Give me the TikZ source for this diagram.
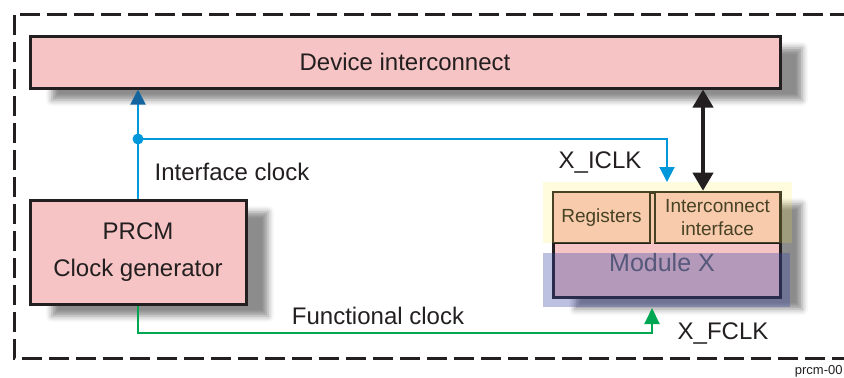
\documentclass[tikz,border=0pt]{standalone}
\usepackage{fontspec}
\setmainfont{Liberation Sans}
\usepackage{tikz}
\usetikzlibrary{arrows.meta,shadows.blur}
\usepackage{xcolor}
\definecolor{boxpink}{HTML}{F6C4C4}
\definecolor{boxline}{HTML}{231F20}
\definecolor{iclkblue}{HTML}{0098DA}
\definecolor{iclktip}{HTML}{14659E}
\definecolor{fclkgreen}{HTML}{00A651}
\definecolor{ovlyellow}{HTML}{FFEF3A}
\definecolor{ovlblue}{HTML}{3A46A8}

\begin{document}
\begin{tikzpicture}[x=0.5pt,y=-0.5pt,
  blk/.style={draw=boxline,line width=1.5pt,fill=boxpink,text=boxline,inner sep=0pt,align=center,
    font=\fontsize{12}{18.5}\selectfont},
  shadowed/.style={blur shadow={shadow xshift=11pt,shadow yshift=-6pt,shadow blur radius=3pt,shadow opacity=45}},
  subblk/.style={blk,line width=1.3pt,font=\fontsize{9.5}{11.5}\selectfont},
  lbl/.style={text=boxline,inner sep=0pt,font=\fontsize{12}{14}\selectfont},
  iclkline/.style={draw=iclkblue,line width=1pt},
  fclkline/.style={draw=fclkgreen,line width=1pt,-{Triangle[length=8pt,width=7.5pt]}},
  busline/.style={draw=boxline,line width=2pt,{Triangle[length=9pt,width=10pt]}-{Triangle[length=9pt,width=10pt]}}]
\useasboundingbox (0,0) rectangle (844,377);
\clip (0,0) rectangle (844,377);
\draw[boxline,line width=1.5pt,dash pattern=on 10pt off 3.5pt] (850,14) -- (14,14) -- (14,358) -- (850,358);

\node[blk,shadowed,minimum width=375pt,minimum height=26pt] (dev) at (405,62) {Device interconnect};
\node[blk,shadowed,minimum width=108pt,minimum height=52pt] (prcm) at (138,252) {PRCM\\Clock generator};
\node[blk,shadowed,minimum width=113.5pt,minimum height=52.5pt] (modx) at (666.5,244.5) {};
\node[subblk,minimum width=48.5pt,minimum height=25.5pt] (regs) at (601.5,217.5) {Registers};
\node[subblk,minimum width=62.5pt,minimum height=25.5pt] (icif) at (717.5,217.5) {Interconnect\\interface};
\node[lbl,text=boxline!70,font=\fontsize{12.5}{14}\selectfont] (modlab) at (662,263) {Module X};

\fill[ovlyellow,opacity=0.17] (543,182) rectangle (792,243);
\fill[ovlblue,opacity=0.34] (543,253) rectangle (790,307);

\coordinate (icsplit) at (138,139);
\coordinate (iclk) at (667,182);
\coordinate (busx) at (703,0);
\coordinate (fbend) at (652,333);
\coordinate (fclk) at (652,308);

\draw[iclkline,-{Triangle[length=7.5pt,width=7.5pt,color=iclktip]}] (prcm.north) -- (prcm.north |- dev.south);
\fill[iclkblue] (icsplit) circle (2.75pt);
\draw[iclkline,-{Triangle[length=7.5pt,width=7.5pt]}] (icsplit) -| (iclk);
\draw[busline] (busx |- dev.south) -- (busx |- icif.north);
\draw[fclkline] (prcm.south) |- (fbend) -- (fclk);

\node[lbl] (iclab) at (232,172) {Interface clock};
\node[lbl] (xiclab) at (600,162) {X\_ICLK};
\node[lbl] (fclab) at (378,316) {Functional clock};
\node[lbl] (xfclab) at (723,333) {X\_FCLK};
\node[lbl,anchor=east,font=\fontsize{6.5}{8}\selectfont] (figid) at (843,371) {prcm-00};
\end{tikzpicture}
\end{document}
